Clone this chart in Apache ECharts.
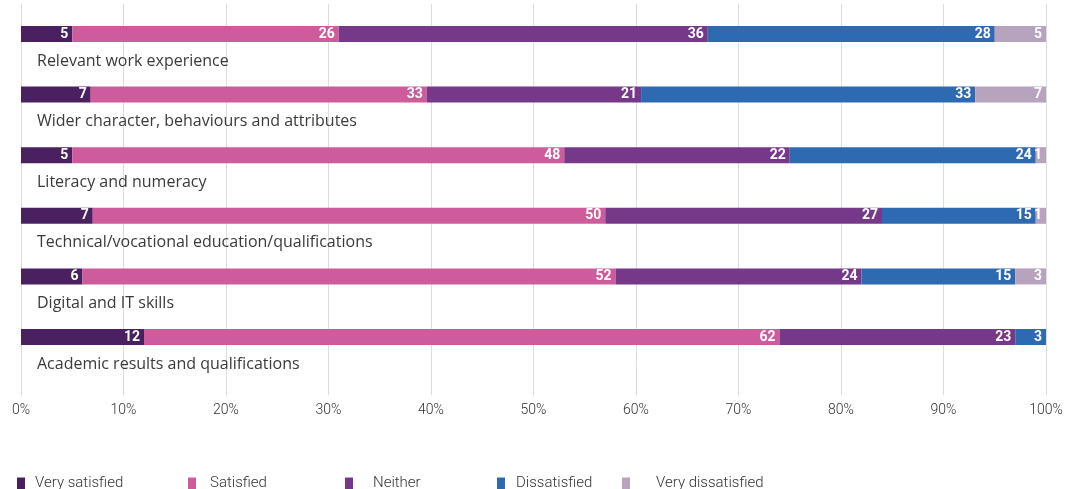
<!DOCTYPE html>
<html>
<head>
<meta charset="utf-8">
<script src="https://cdn.jsdelivr.net/npm/echarts@6/dist/echarts.min.js"></script>
<style>html,body{margin:0;padding:0;background:#fff;}#chart{width:1069px;height:489px;}</style>
</head>
<body>
<div id="chart"></div>
<script>
const categories = ['Relevant work experience', 'Wider character, behaviours and attributes', 'Literacy and numeracy', 'Technical/vocational education/qualifications', 'Digital and IT skills', 'Academic results and qualifications'];
const seriesNames = ['Very satisfied', 'Satisfied', 'Neither', 'Dissatisfied', 'Very dissatisfied'];
// bar lengths (percent)
const verySatisfied = [5, 6.8, 5, 7, 6, 12];
const satisfied = [26, 32.8, 48, 50, 52, 62];
const neither = [36, 20.9, 22, 27, 24, 23];
const dissatisfied = [28, 32.6, 24, 15, 15, 3];
const veryDissatisfied = [5, 6.9, 1, 1, 3, 0];
// printed labels
const verySatisfiedLabels = ['5', '7', '5', '7', '6', '12'];
const satisfiedLabels = ['26', '33', '48', '50', '52', '62'];
const neitherLabels = ['36', '21', '22', '27', '24', '23'];
const dissatisfiedLabels = ['28', '33', '24', '15', '15', '3'];
const veryDissatisfiedLabels = ['5', '7', '1', '1', '3', ''];
const xTicks = [0, 10, 20, 30, 40, 50, 60, 70, 80, 90, 100];

const colors = ['#4b2060', '#ce5c9c', '#763889', '#2d6ab2', '#b7a3bd'];
const values = [verySatisfied, satisfied, neither, dissatisfied, veryDissatisfied];
const labels = [verySatisfiedLabels, satisfiedLabels, neitherLabels, dissatisfiedLabels, veryDissatisfiedLabels];

const chart = echarts.init(document.getElementById('chart'));
const FONT = 'Roboto';

const series = seriesNames.map((name, i) => ({
  name: name,
  type: 'bar',
  stack: 'total',
  barWidth: 16,
  itemStyle: { color: colors[i] },
  label: {
    show: true,
    position: 'insideRight',
    distance: 4,
    color: '#fff',
    fontWeight: 'bold',
    fontSize: 14,
    fontFamily: FONT,
    formatter: p => labels[i][p.dataIndex]
  },
  data: values[i]
}));

const legendLefts = [17, 188, 345, 497, 622];
const legendPads = [5, 9, 15, 6, 21];
const legends = seriesNames.map((name, i) => ({
  data: [name],
  left: legendLefts[i],
  top: 476,
  padding: 0,
  icon: 'rect',
  itemWidth: 8,
  itemHeight: 12,
  itemGap: 0,
  selectedMode: false,
  textStyle: { fontFamily: FONT, fontSize: 15, color: '#333', fontWeight: 300, padding: [0, 0, 0, legendPads[i]] }
}));

chart.setOption({
  animation: false,
  color: colors,
  legend: legends,
  grid: { left: 21, right: 23, top: 3.7, height: 363.6, containLabel: false },
  xAxis: {
    type: 'value',
    min: xTicks[0],
    max: xTicks[xTicks.length - 1],
    interval: 10,
    axisLine: { show: false },
    axisTick: { show: true, length: 28, lineStyle: { color: '#dddddd', width: 1 } },
    splitLine: { show: true, lineStyle: { color: '#dddddd', width: 1 } },
    axisLabel: { margin: 36, formatter: '{value}%', fontFamily: FONT, fontSize: 14, color: '#333', fontWeight: 300 }
  },
  yAxis: {
    type: 'category',
    inverse: true,
    data: categories,
    axisLine: { show: false },
    axisTick: { show: false },
    axisLabel: {
      inside: true,
      margin: 16,
      verticalAlign: 'top',
      padding: [19, 0, 0, 0],
      fontFamily: 'Open Sans',
      fontSize: 16,
      color: '#3a3a3a'
    }
  },
  series: series
});
</script>
</body>
</html>
